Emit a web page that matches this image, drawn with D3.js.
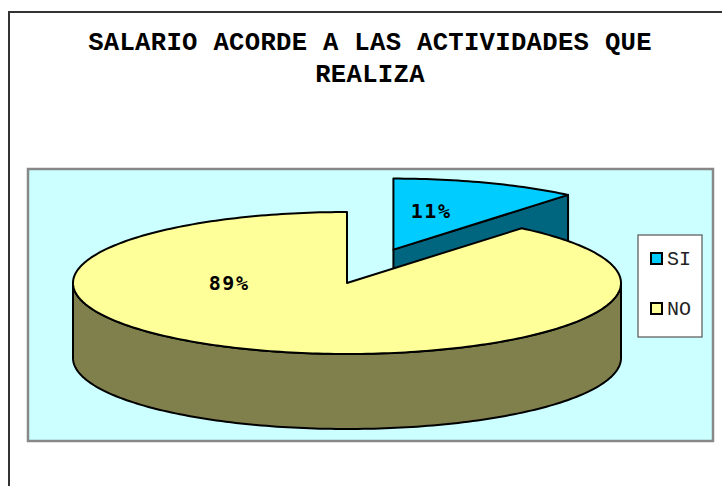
<!DOCTYPE html>
<html>
<head>
    <meta charset="utf-8">
    <title>Salario acorde</title>
    <script src="https://cdn.jsdelivr.net/npm/d3@7"></script>
    <style>
        body { margin: 0; background: #fff; }
        svg { display: block; }
    </style>
</head>
<body>
    <div id="chart_div"></div>
    <script>
        // data
        const categories = ["SI", "NO"];
        const values = [11, 89];
        const titleLines = ["SALARIO ACORDE A LAS ACTIVIDADES QUE", "REALIZA"];

        const width = 722, height = 486;
        const topColors = { SI: "#00CCFF", NO: "#FFFF99" };
        const sideColors = { SI: "#00667F", NO: "#80804C" };
        const explode = { SI: 0.5, NO: 0 };
        // label anchor in ellipse units (angle in degrees, radius fraction)
        const labelAt = { SI: [14, 0.57], NO: [271, 0.43] };

        const cx = 347, cy = 283, rx = 274, ry = 71, depth = 75;

        const svg = d3.select("#chart_div").append("svg")
            .attr("width", width)
            .attr("height", height);

        // outer chart frame (runs off the right and bottom edges)
        svg.append("rect")
            .attr("x", 9).attr("y", 12)
            .attr("width", 760).attr("height", 520)
            .attr("fill", "#fff")
            .attr("stroke", "#333")
            .attr("stroke-width", 2);

        // title
        svg.append("g").selectAll("text")
            .data(titleLines)
            .enter().append("text")
            .attr("x", 370)
            .attr("y", (d, i) => 50 + i * 32)
            .attr("text-anchor", "middle")
            .attr("font-family", "'Liberation Mono', 'Courier New', monospace")
            .attr("font-weight", "bold")
            .attr("font-size", "25.6px")
            .attr("letter-spacing", "0.3px")
            .attr("fill", "#000")
            .text(d => d);

        // plot area
        svg.append("rect")
            .attr("x", 28).attr("y", 169)
            .attr("width", 685).attr("height", 272)
            .attr("fill", "#CCFFFF")
            .attr("stroke", "#888")
            .attr("stroke-width", 2.5);

        const pie = d3.pie().sort(null).value(d => d.value);
        const arcs = pie(categories.map((c, i) => ({ name: c, value: values[i] })));

        // point on the top ellipse, angle measured clockwise from 12 o'clock
        function pt(a, ox, oy, dy) {
            return [ox + rx * Math.sin(a), oy - ry * Math.cos(a) + (dy || 0)];
        }

        function arcPts(a0, a1, ox, oy, dy) {
            const n = Math.max(2, Math.ceil(Math.abs(a1 - a0) / 0.02));
            return d3.range(n + 1).map(i => pt(a0 + (a1 - a0) * i / n, ox, oy, dy));
        }

        const line = d3.line();

        const pieG = svg.append("g");

        arcs.forEach(d => {
            const name = d.data.name;
            const mid = (d.startAngle + d.endAngle) / 2;
            const ox = cx + explode[name] * rx * Math.sin(mid);
            const oy = cy - explode[name] * ry * Math.cos(mid);
            const g = pieG.append("g");
            const faceStyle = sel => sel
                .attr("stroke", "#000")
                .attr("stroke-width", 2)
                .attr("stroke-linejoin", "round");

            // radial faces that look toward the viewer
            if (Math.sin(d.endAngle) > 1e-6) {
                const p = pt(d.endAngle, ox, oy);
                g.append("path")
                    .attr("d", line([[ox, oy], p, [p[0], p[1] + depth], [ox, oy + depth]]) + "Z")
                    .attr("fill", sideColors[name])
                    .call(faceStyle);
            }
            if (Math.sin(d.startAngle) < -1e-6) {
                const p = pt(d.startAngle, ox, oy);
                g.append("path")
                    .attr("d", line([[ox, oy], p, [p[0], p[1] + depth], [ox, oy + depth]]) + "Z")
                    .attr("fill", sideColors[name])
                    .call(faceStyle);
            }

            // outer wall, front half only
            const w0 = Math.max(d.startAngle, Math.PI / 2);
            const w1 = Math.min(d.endAngle, Math.PI * 1.5);
            if (w1 > w0) {
                const upper = arcPts(w0, w1, ox, oy, 0);
                const lower = arcPts(w1, w0, ox, oy, depth);
                g.append("path")
                    .attr("d", line(upper.concat(lower)) + "Z")
                    .attr("fill", sideColors[name])
                    .call(faceStyle);
            }

            // top face
            const top = [[ox, oy]].concat(arcPts(d.startAngle, d.endAngle, ox, oy, 0));
            g.append("path")
                .attr("d", line(top) + "Z")
                .attr("fill", topColors[name])
                .call(faceStyle);

            d.ox = ox; d.oy = oy;
        });

        // percentage labels
        const total = d3.sum(values);
        const fmt = d3.format(".0%");
        svg.append("g").selectAll("text")
            .data(arcs)
            .enter().append("text")
            .attr("x", d => {
                const [a, r] = labelAt[d.data.name];
                return d.ox + r * rx * Math.sin(a * Math.PI / 180);
            })
            .attr("y", d => {
                const [a, r] = labelAt[d.data.name];
                return d.oy - r * ry * Math.cos(a * Math.PI / 180);
            })
            .attr("dy", "0.36em")
            .attr("text-anchor", "middle")
            .attr("font-family", "'DejaVu Sans Mono', monospace")
            .attr("font-weight", "bold")
            .attr("font-size", "20px")
            .attr("letter-spacing", "1.6px")
            .attr("fill", "#000")
            .text(d => fmt(d.value / total));

        // legend
        const legend = svg.append("g");
        legend.append("rect")
            .attr("x", 638).attr("y", 235)
            .attr("width", 64).attr("height", 102)
            .attr("fill", "#fff")
            .attr("stroke", "#555")
            .attr("stroke-width", 1.2);

        const item = legend.selectAll("g.item")
            .data(categories)
            .enter().append("g")
            .attr("class", "item")
            .attr("transform", (d, i) => `translate(651,${253 + i * 50})`);

        item.append("rect")
            .attr("width", 11).attr("height", 11)
            .attr("fill", d => topColors[d])
            .attr("stroke", "#000")
            .attr("stroke-width", 2);

        item.append("text")
            .attr("x", 16)
            .attr("y", 12)
            .attr("font-family", "'Liberation Mono', 'Courier New', monospace")
            .attr("font-size", "20px")
            .attr("fill", "#222")
            .text(d => d);
    </script>
</body>
</html>
